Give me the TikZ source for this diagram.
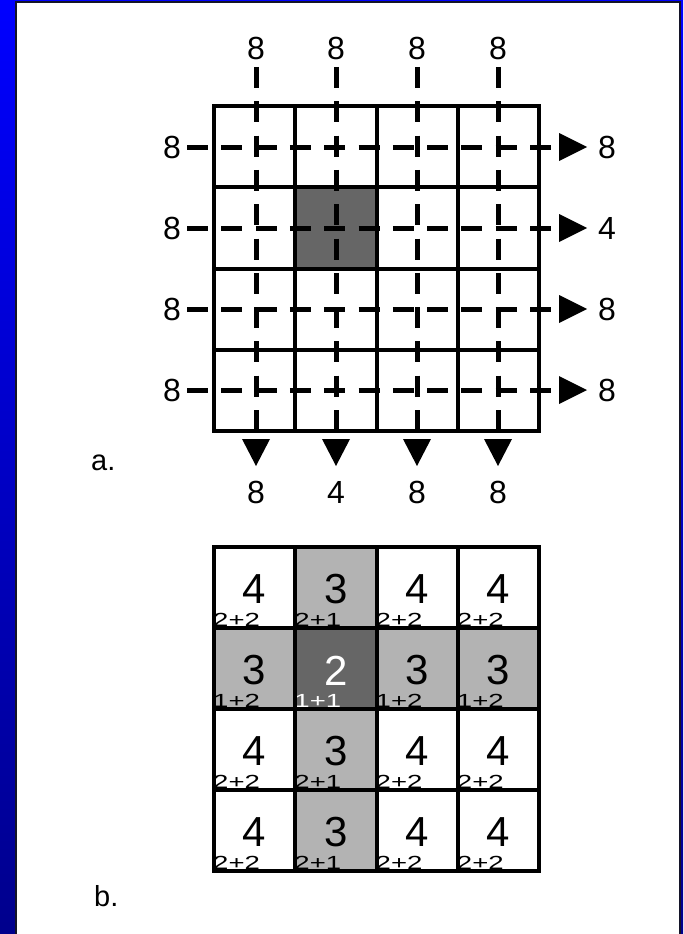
\documentclass[tikz,border=0pt]{standalone}
\usepackage{fontspec}
\setmainfont{Liberation Sans}
\definecolor{bgtop}{RGB}{0,0,255}
\definecolor{bgbot}{RGB}{0,0,140}
\definecolor{framec}{RGB}{20,20,40}
\definecolor{darkcell}{RGB}{102,102,102}
\definecolor{lightcell}{RGB}{179,179,179}
\newcommand{\widetxt}[1]{\scalebox{1.45}[1]{#1}}
\begin{document}
\begin{tikzpicture}[x=1pt,y=-1pt,
  gridline/.style={line width=4pt, line cap=rect},
  dashline/.style={line width=5pt, dash pattern=on 21pt off 13.3pt},
  lab/.style={inner sep=0pt, font=\fontsize{32}{32}\selectfont},
  big/.style={inner sep=0pt, font=\fontsize{42}{42}\selectfont},
  small/.style={inner sep=0pt, anchor=base west, font=\fontsize{19}{19}\selectfont},
  cellbox/.style={draw=none, inner sep=0pt, minimum width=81.25pt, minimum height=81.25pt},
  letter/.style={inner sep=0pt, anchor=base west, font=\fontsize{29}{29}\selectfont},
  tri/.style={fill=black}
]
\useasboundingbox (0,0) rectangle (683,934);
\shade[top color=bgtop, bottom color=bgbot] (0,0) rectangle (683,934);
\path[fill=white, draw=framec, line width=2pt] (16,2) rectangle (680,945);

% ---------------- part a ----------------
\node[cellbox, fill=darkcell] (adark) at ({214+81.25*1.5},{106+81.25*1.5}) {};
\foreach \i in {0,...,4} {
  \draw[gridline] ({214+81.25*\i},106) -- ({214+81.25*\i},431);
  \draw[gridline] (214,{106+81.25*\i}) -- (539,{106+81.25*\i});
}
% columns
\foreach \c/\x/\b in {1/256/8,2/336/4,3/417/8,4/498/8} {
  \node[lab] (t\c) at (\x,48) {8};
  \coordinate (vs\c) at (\x,67);
  \coordinate (ve\c) at (\x,431);
  \draw[dashline] (vs\c) -- (ve\c);
  \coordinate (da\c) at (\x,466);
  \fill[tri] (\x-14,439) -- (\x+14,439) -- (da\c) -- cycle;
  \node[lab] (bl\c) at (\x,492) {\b};
}
% rows
\foreach \r/\y/\o in {1/147/8,2/228/4,3/309/8,4/390/8} {
  \node[lab] (l\r) at (172,\y) {8};
  \coordinate (hs\r) at (187,\y);
  \coordinate (he\r) at (552,\y);
  \draw[dashline] (hs\r) -- (he\r);
  \coordinate (ra\r) at (587,\y);
  \fill[tri] (559,\y-14) -- (559,\y+14) -- (ra\r) -- cycle;
  \node[lab] (r\r) at (607,\y) {\o};
}
\node[letter] (labela) at (91,470) {a.};

% ---------------- part b ----------------
\foreach \r/\c/\f/\t/\s/\tc in {
  0/0/white/4/2+2/black, 0/1/lightcell/3/2+1/black, 0/2/white/4/2+2/black, 0/3/white/4/2+2/black,
  1/0/lightcell/3/1+2/black, 1/1/darkcell/2/1+1/white, 1/2/lightcell/3/1+2/black, 1/3/lightcell/3/1+2/black,
  2/0/white/4/2+2/black, 2/1/lightcell/3/2+1/black, 2/2/white/4/2+2/black, 2/3/white/4/2+2/black,
  3/0/white/4/2+2/black, 3/1/lightcell/3/2+1/black, 3/2/white/4/2+2/black, 3/3/white/4/2+2/black} {
  \node[cellbox, fill=\f] (b\r\c) at ({214+81.25*(\c+0.5)},{547+81*(\r+0.5)}) {};
  \node[big, text=\tc] (bn\r\c) at ({214+81.25*(\c+0.5)},{547+81*(\r+0.5)+2}) {\t};
  \node[small, text=\tc] (bs\r\c) at ({214+81.25*\c-1},{547+81*(\r+1)-1.5}) {\widetxt{\s}};
}
\foreach \i in {0,...,4} {
  \draw[gridline] ({214+81.25*\i},547) -- ({214+81.25*\i},871);
  \draw[gridline] (214,{547+81*\i}) -- (539,{547+81*\i});
}
\node[letter] (labelb) at (94,906) {b.};
\end{tikzpicture}
\end{document}
